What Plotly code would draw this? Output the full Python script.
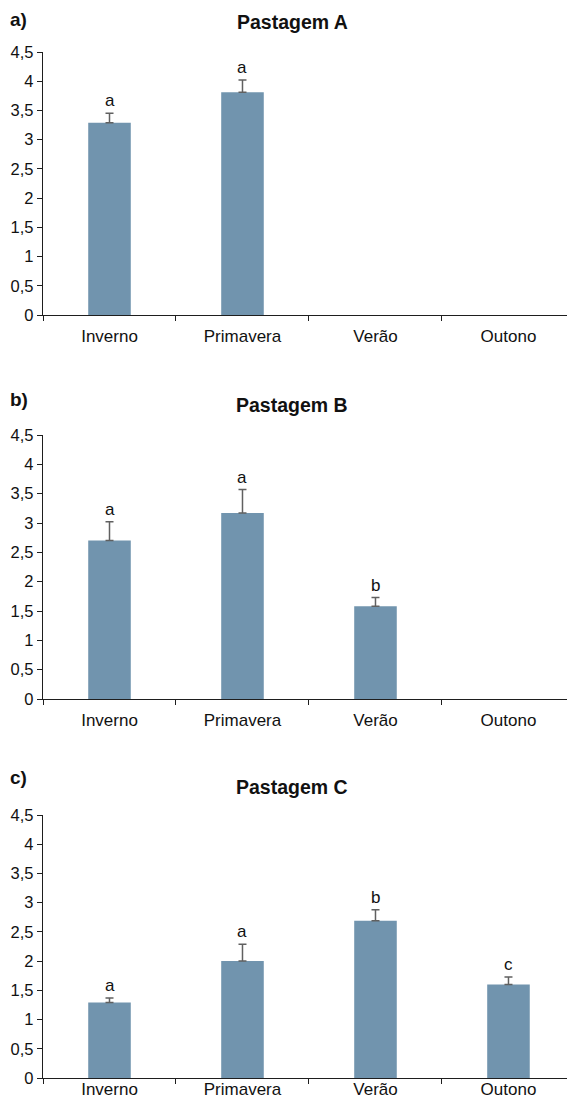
import plotly.graph_objects as go

categories = ["Inverno", "Primavera", "Verão", "Outono"]
panel_labels = ["a)", "b)", "c)"]
panel_titles = ["Pastagem A", "Pastagem B", "Pastagem C"]

means_a = [3.29, 3.81, None, None]
err_a = [0.16, 0.21, 0, 0]
letters_a = ["a", "a", "", ""]

means_b = [2.70, 3.17, 1.58, None]
err_b = [0.32, 0.40, 0.15, 0]
letters_b = ["a", "a", "b", ""]

means_c = [1.29, 2.00, 2.69, 1.60]
err_c = [0.08, 0.29, 0.19, 0.13]
letters_c = ["a", "a", "b", "c"]

y_tickvals = [0, 0.5, 1, 1.5, 2, 2.5, 3, 3.5, 4, 4.5]
y_ticktext = ["0", "0,5", "1", "1,5", "2", "2,5", "3", "3,5", "4", "4,5"]

W, H = 559, 1094
OFF = 8  # page body margin
FONT = "Liberation Sans, Arial, sans-serif"
BAR = "#7194AE"
ERR = "#606060"
AX = "#1e1e1e"
L = 43 - OFF

# reference-page pixel positions of each panel's plot area (4,5 tick and 0 line)
panel_px = [(52, 315), (435, 699), (815, 1078)]
title_px = [22, 405, 787]
label_px = [8, 388, 766]   # top edge of the panel letter
xlabel_standoff = [5, 5, -5]

fig = go.Figure()
series = [(means_a, err_a, letters_a), (means_b, err_b, letters_b), (means_c, err_c, letters_c)]

for i, (m, e, lt) in enumerate(series):
    xa = "x" if i == 0 else f"x{i+1}"
    ya = "y" if i == 0 else f"y{i+1}"
    fig.add_trace(go.Bar(
        x=categories, y=m, xaxis=xa, yaxis=ya,
        marker=dict(color=BAR, line=dict(width=0)),
        width=0.32,
        error_y=dict(type="data", symmetric=False, array=e,
                     arrayminus=[0] * len(e), color=ERR, thickness=1.5, width=4),
        showlegend=False, hoverinfo="skip",
    ))
    for c, mv, ev, t in zip(categories, m, e, lt):
        if t and mv is not None:
            fig.add_annotation(x=c, y=mv + ev, xref=xa, yref=ya, text=t,
                               showarrow=False, yanchor="bottom", yshift=1,
                               font=dict(family=FONT, size=17, color="#111"))
    top, bot = panel_px[i]
    dom = [1 - (bot - OFF) / H, 1 - (top - OFF) / H]
    xkey = "xaxis" if i == 0 else f"xaxis{i+1}"
    ykey = "yaxis" if i == 0 else f"yaxis{i+1}"
    fig.update_layout(**{
        xkey: dict(domain=[0, 1], anchor=ya, type="category",
                   categoryorder="array", categoryarray=categories,
                   range=[-0.5, 3.44], tickson="boundaries",
                   ticks="outside", ticklen=5, tickcolor=AX, tickwidth=1,
                   showline=True, linecolor=AX, linewidth=1.3,
                   showgrid=False, zeroline=False,
                   ticklabelstandoff=xlabel_standoff[i],
                   tickfont=dict(family=FONT, size=17, color="#111")),
        ykey: dict(domain=dom, anchor=xa, range=[0, 4.5],
                   tickvals=y_tickvals, ticktext=y_ticktext,
                   ticks="outside", ticklen=5, tickcolor=AX, tickwidth=1,
                   showline=True, linecolor=AX, linewidth=1.3,
                   showgrid=False, zeroline=False,
                   tickfont=dict(family=FONT, size=16.5, color="#111")),
    })
    fig.add_annotation(x=(292 - OFF - L) / (W - L), y=1 - (title_px[i] - OFF) / H,
                       xref="paper", yref="paper",
                       text=f"<b>{panel_titles[i]}</b>", showarrow=False,
                       xanchor="center", yanchor="middle",
                       font=dict(family=FONT, size=19.5, color="#111"))
    fig.add_annotation(x=(9 - OFF - L) / (W - L), y=1 - (label_px[i] - OFF) / H,
                       xref="paper", yref="paper",
                       text=f"<b>{panel_labels[i]}</b>", showarrow=False,
                       xanchor="left", yanchor="top", borderpad=0,
                       font=dict(family=FONT, size=19, color="#111"))

fig.update_layout(
    width=W, height=H,
    margin=dict(l=L, r=0, t=0, b=0, autoexpand=False),
    paper_bgcolor="white", plot_bgcolor="white",
)

fig.write_html("out.html")
